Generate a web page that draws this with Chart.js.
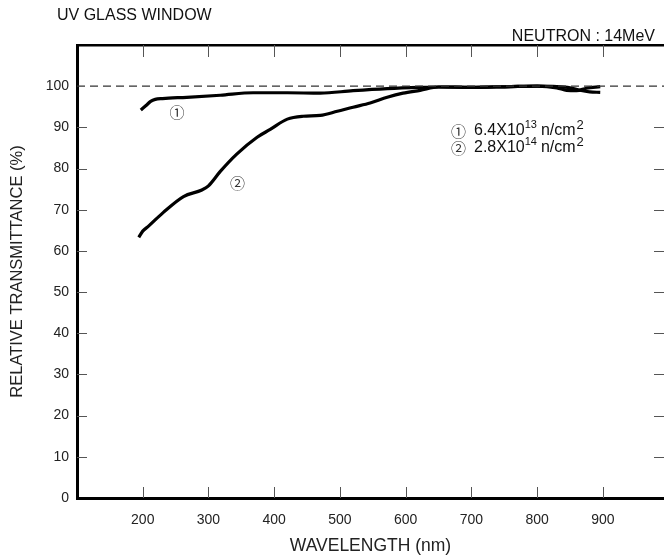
<!DOCTYPE html>
<html>
<head>
<meta charset="utf-8">
<script src="https://cdn.jsdelivr.net/npm/chart.js@4.4.1/dist/chart.umd.min.js"></script>
<style>
    html, body { margin: 0; padding: 0; background: #fff; overflow: hidden; }
    #wrap { width: 664px; height: 560px; }
</style>
</head>
<body>
<div id="wrap"><canvas id="uvChart" width="664" height="560"></canvas></div>
<script>
// data
var wave1 = [197, 205, 212, 219, 230, 267, 318, 368, 420, 470, 520, 572, 622, 650, 700, 760, 800, 830, 845, 860, 875, 896];
var trans1 = [94.2, 95.3, 96.3, 96.8, 97.0, 97.3, 97.8, 98.4, 98.4, 98.3, 98.9, 99.4, 99.7, 99.8, 99.7, 99.9, 100, 99.6, 99.0, 98.9, 99.5, 99.9];

var wave2 = [194, 200, 208, 231, 262, 290, 300, 318, 343, 374, 394, 420, 444, 470, 496, 520, 546, 572, 596, 622, 650, 700, 760, 800, 830, 850, 865, 880, 896];
var trans2 = [63.3, 64.8, 65.9, 69.3, 73.2, 74.8, 75.8, 79.3, 83.5, 87.6, 89.5, 92.0, 92.7, 92.9, 93.9, 94.9, 95.9, 97.3, 98.3, 99.0, 99.8, 99.7, 99.9, 100, 99.9, 99.6, 99.0, 98.6, 98.5];

var refLevel = 100;
var xTicks = [200, 300, 400, 500, 600, 700, 800, 900];
var yTicks = [0, 10, 20, 30, 40, 50, 60, 70, 80, 90, 100];

var curveLabels = ["\u2460", "\u2461"];
var curveLabelPos = [[252, 93.7], [344, 76.4]];
var fluence = [["6.4", "13"], ["2.8", "14"]];

var FONT = "'Liberation Sans', Arial, sans-serif";
var CIRC = '"Noto Sans CJK JP", "DejaVu Sans", sans-serif';

function toPoints(xs, ys) {
    return xs.map(function (x, i) { return { x: x, y: ys[i] }; });
}

// 눈금, 텍스트 그리기
var decorPlugin = {
    id: 'decor',
    afterDatasetsDraw: function (chart) {
        var ctx = chart.ctx;
        var xs = chart.scales.x, ys = chart.scales.y;
        var area = chart.chartArea;
        ctx.save();

        // inward tick marks
        ctx.strokeStyle = '#555';
        ctx.lineWidth = 1;
        xTicks.forEach(function (v) {
            var px = Math.round(xs.getPixelForValue(v)) + 0.5;
            ctx.beginPath();
            ctx.moveTo(px, area.bottom);
            ctx.lineTo(px, area.bottom - 11);
            ctx.moveTo(px, area.top);
            ctx.lineTo(px, area.top + 12);
            ctx.stroke();
        });
        yTicks.forEach(function (v) {
            if (v === 0 || v === refLevel) return;
            var py = Math.round(ys.getPixelForValue(v)) + 0.5;
            ctx.beginPath();
            ctx.moveTo(area.left, py);
            ctx.lineTo(area.left + 10, py);
            ctx.moveTo(area.right, py);
            ctx.lineTo(area.right - 10, py);
            ctx.stroke();
        });

        // headings
        ctx.fillStyle = '#111';
        ctx.textBaseline = 'middle';
        ctx.font = '16px ' + FONT;
        ctx.textAlign = 'left';
        ctx.fillText('UV GLASS WINDOW', 57, 16);
        ctx.textAlign = 'right';
        ctx.fillText('NEUTRON : 14MeV', 655, 37);

        // curve numbers
        ctx.textAlign = 'center';
        ctx.font = '15px ' + CIRC;
        ctx.fillStyle = '#333';
        curveLabels.forEach(function (t, i) {
            ctx.fillText(t, xs.getPixelForValue(curveLabelPos[i][0]), ys.getPixelForValue(curveLabelPos[i][1]));
        });

        // legend text
        ctx.textAlign = 'left';
        fluence.forEach(function (f, i) {
            var y = 131 + i * 17;
            var x = 451;
            ctx.fillStyle = '#333';
            ctx.font = '15px ' + CIRC;
            ctx.fillText(curveLabels[i], x, y);
            x += 23;
            ctx.fillStyle = '#111';
            ctx.font = '16px ' + FONT;
            var base = f[0] + 'X10';
            ctx.fillText(base, x, y);
            x += ctx.measureText(base).width;
            ctx.font = '11px ' + FONT;
            ctx.fillText(f[1], x, y - 6);
            x += ctx.measureText(f[1]).width + 4;
            ctx.font = '16px ' + FONT;
            ctx.fillText('n/cm', x, y);
            x += ctx.measureText('n/cm').width + 1;
            ctx.font = '13px ' + FONT;
            ctx.fillText('2', x, y - 6);
        });
        ctx.restore();
    }
};

var ctx1 = document.getElementById('uvChart').getContext('2d');

var uvChart = new Chart(ctx1, {
    type: 'scatter',
    data: {
        datasets: [{
            label: 'ref',
            data: [{ x: 100, y: refLevel }, { x: 993, y: refLevel }],
            showLine: true,
            borderColor: '#333',
            borderWidth: 1.2,
            borderDash: [8, 5],
            pointRadius: 0
        }, {
            label: '6.4x10^13',
            data: toPoints(wave1, trans1),
            showLine: true,
            borderColor: '#000',
            borderWidth: 3.2,
            cubicInterpolationMode: 'monotone',
            pointRadius: 0
        }, {
            label: '2.8x10^14',
            data: toPoints(wave2, trans2),
            showLine: true,
            borderColor: '#000',
            borderWidth: 3.2,
            cubicInterpolationMode: 'monotone',
            pointRadius: 0
        }]
    },
    options: {
        responsive: false,
        animation: false,
        layout: { padding: 0 },
        plugins: {
            legend: { display: false },
            tooltip: { enabled: false }
        },
        scales: {
            x: {
                type: 'linear',
                position: 'bottom',
                min: 100,
                max: 993,
                afterBuildTicks: function (s) { s.ticks = xTicks.map(function (v) { return { value: v }; }); },
                afterFit: function (s) { s.height = 62; },
                grid: { display: false, drawTicks: false },
                border: { display: true, color: '#000', width: 3 },
                ticks: {
                    padding: 14,
                    color: '#222',
                    maxRotation: 0,
                    font: { family: FONT, size: 14 }
                },
                title: {
                    display: true,
                    text: 'WAVELENGTH (nm)',
                    color: '#222',
                    padding: { top: 0, bottom: 3 },
                    font: { family: FONT, size: 17.5 }
                }
            },
            xTop: {
                type: 'linear',
                position: 'top',
                min: 100,
                max: 993,
                afterFit: function (s) { s.height = 45; },
                grid: { display: false, drawTicks: false },
                border: { display: true, color: '#000', width: 2.5 },
                ticks: { display: false }
            },
            y: {
                type: 'linear',
                position: 'left',
                min: 0,
                max: 110,
                afterBuildTicks: function (s) { s.ticks = yTicks.map(function (v) { return { value: v }; }); },
                afterFit: function (s) { s.width = 77; },
                grid: { display: false, drawTicks: false },
                border: { display: true, color: '#000', width: 3 },
                ticks: {
                    padding: 8,
                    color: '#222',
                    font: { family: FONT, size: 14 }
                },
                title: {
                    display: true,
                    text: 'RELATIVE TRANSMITTANCE (%)',
                    color: '#222',
                    padding: { top: 8, bottom: 0 },
                    font: { family: FONT, size: 16.5 }
                }
            }
        }
    },
    plugins: [decorPlugin]
});
</script>
</body>
</html>
